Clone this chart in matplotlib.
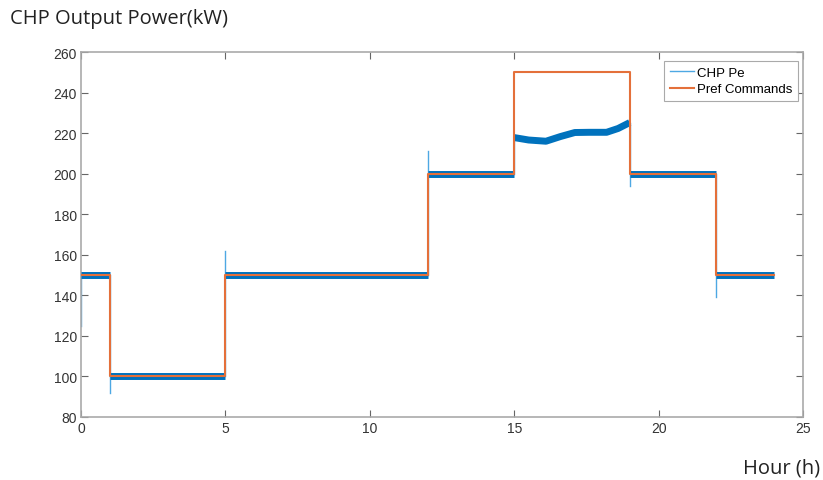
import matplotlib.pyplot as plt
import numpy as np

# step commands (h, kW)
step_hours = [0, 1, 5, 12, 15, 19, 22, 24]
pref_levels = [150, 100, 150, 200, 250, 200, 150]

# CHP output during the 15-19 h window, where it can't reach 250 kW
pe_mid_t = [15.0, 15.5, 16.1, 16.6, 17.1, 17.6, 18.2, 18.6, 19.0]
pe_mid_v = [217.8, 216.6, 216.0, 218.3, 220.3, 220.4, 220.4, 222.3, 225.2]

# transient spikes of Pe at each step change
spike_t = [0, 1, 5, 12, 19, 22]
spike_v = [125, 92, 162, 211, 194, 139]

plt.rcParams['font.family'] = ['Liberation Sans Narrow', 'Liberation Sans', 'DejaVu Sans']

fig = plt.figure(figsize=(8.23, 4.81), dpi=100)
ax = fig.add_axes([0.0984, 0.131, 0.8773, 0.7588])

light_blue = '#4DA8E3'
dark_blue = '#0072BD'
orange = '#E4703A'

# Pe: thick plateaus, thin vertical transitions
pe_segments = []
for i, lvl in enumerate(pref_levels):
    if lvl == 250:
        seg_t, seg_v = pe_mid_t, pe_mid_v
    else:
        seg_t, seg_v = [step_hours[i], step_hours[i + 1]], [lvl, lvl]
    pe_segments.append((seg_t, seg_v))
    ax.plot(seg_t, seg_v, color=dark_blue, lw=5, zorder=3, solid_capstyle='butt')

for i in range(1, len(pe_segments)):
    t = step_hours[i]
    ax.plot([t, t], [pe_segments[i - 1][1][-1], pe_segments[i][1][0]],
            color=light_blue, lw=1, zorder=2)

for t, v in zip(spike_t, spike_v):
    i = step_hours.index(t)
    base = pe_segments[i][1][0]
    ax.plot([t, t], [v, base], color=light_blue, lw=1, zorder=2)

ax.plot([], [], color=light_blue, lw=1, label='CHP Pe')

# Pref as step line
pref_t, pref_v = [], []
for i, lvl in enumerate(pref_levels):
    pref_t += [step_hours[i], step_hours[i + 1]]
    pref_v += [lvl, lvl]
ax.plot(pref_t, pref_v, color=orange, lw=1.5, zorder=4, label='Pref Commands')

ax.set_xlim(0, 25)
ax.set_ylim(80, 260)
ax.set_xticks(np.arange(0, 26, 5))
ax.set_yticks(np.arange(80, 261, 20))
ax.tick_params(direction='in', top=True, right=True, colors='#666666',
               labelcolor='#333333', labelsize=10, length=5, width=0.8, pad=3)
for s in ax.spines.values():
    s.set_color('#aaaaaa')
    s.set_linewidth(1.2)

leg = ax.legend(loc='upper right', bbox_to_anchor=(0.993, 0.976), fontsize=9.5,
                handlelength=1.8, handletextpad=0.2, borderpad=0.45,
                labelspacing=0.3, fancybox=False, framealpha=1, borderaxespad=0)
leg.get_frame().set_edgecolor('#aaaaaa')
leg.get_frame().set_linewidth(0.8)

fig.text(0.012, 0.96, 'CHP Output Power(kW)', fontsize=14.5, family=['Open Sans', 'DejaVu Sans'],
         color='#222222', va='center')
fig.text(0.997, 0.027, 'Hour (h)', fontsize=14.5, family=['Open Sans', 'DejaVu Sans'],
         color='#222222', ha='right', va='center')

fig.savefig('out.png', dpi=100)
